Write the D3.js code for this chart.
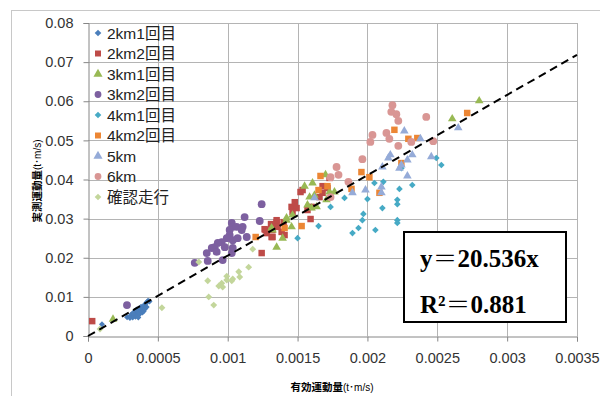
<!DOCTYPE html>
<html><head><meta charset="utf-8">
<script src="https://cdn.jsdelivr.net/npm/d3@7"></script>
<style>body{margin:0;background:#fff}svg{display:block}</style>
</head><body><svg id="c" width="600" height="396"></svg>
<script>
// ---------- data ----------
const seriesNames = ["2km1回目","2km2回目","3km1回目","3km2回目","4km1回目","4km2回目","5km","6km","確認走行"];
const s2km1 = [[0.0001,0.003],[0.00028,0.0048],[0.0003,0.005],[0.00031,0.0055],[0.00032,0.0047],[0.00033,0.006],[0.00033,0.0052],[0.00034,0.0065],[0.00034,0.0049],[0.00035,0.0058],[0.00035,0.0068],[0.00036,0.0053],[0.00036,0.0062],[0.00037,0.0071],[0.00037,0.0056],[0.00038,0.0065],[0.00038,0.0075],[0.00039,0.006],[0.00039,0.0069],[0.0004,0.0078],[0.0004,0.0064],[0.00041,0.0082],[0.00041,0.007],[0.00042,0.0086],[0.00042,0.0074],[0.00043,0.009],[0.00044,0.0088],[0.00032,0.0058],[0.0003,0.0046],[0.00036,0.0047]];
const s2km2 = [[0.00003,0.0038],[0.001521,0.0368],[0.001536,0.0373],[0.001679,0.0383],[0.001457,0.033],[0.001493,0.0327],[0.001464,0.0317],[0.00135,0.0291],[0.001336,0.0284],[0.001357,0.0279],[0.001321,0.0271],[0.001264,0.0273],[0.001279,0.0263],[0.001314,0.0253],[0.001386,0.0266],[0.001407,0.0258],[0.001593,0.0299],[0.001571,0.0322],[0.0016,0.033],[0.001657,0.0355],[0.001679,0.0366],[0.001714,0.0378],[0.001243,0.0212],[0.00135,0.0296],[0.001271,0.0271],[0.001321,0.0253],[0.001729,0.0404],[0.00148,0.0342],[0.0014,0.0291],[0.00131,0.0286]];
const s3km1 = [[0.000179,0.0043],[0.00155,0.0383],[0.001607,0.0391],[0.0017,0.0412],[0.001586,0.0355],[0.001621,0.036],[0.001729,0.0368],[0.001764,0.0368],[0.001571,0.0335],[0.0016,0.0327],[0.001636,0.033],[0.001464,0.0309],[0.001421,0.0296],[0.001457,0.0279],[0.001321,0.0271],[0.001393,0.025],[0.00135,0.0227],[0.001707,0.0348],[0.001314,0.0276],[0.001421,0.0302],[0.0028,0.0601],[0.002607,0.0555]];
const s3km2 = [[0.000279,0.0079],[0.001243,0.0337],[0.001229,0.0294],[0.001121,0.0304],[0.001107,0.0279],[0.001029,0.0289],[0.001036,0.0279],[0.001014,0.0271],[0.001064,0.0279],[0.0011,0.0271],[0.001014,0.0258],[0.000993,0.025],[0.001036,0.0245],[0.001071,0.025],[0.000957,0.024],[0.000929,0.0238],[0.000907,0.0227],[0.000886,0.0225],[0.000921,0.0215],[0.00085,0.0212],[0.001036,0.0225],[0.001029,0.0212],[0.000964,0.0194],[0.000857,0.0192],[0.000764,0.0187],[0.000979,0.0227],[0.001136,0.0253]];
const s4km1 = [[0.002529,0.0437],[0.002493,0.0455],[0.002321,0.0386],[0.002229,0.0376],[0.002114,0.0394],[0.00205,0.0391],[0.002,0.035],[0.001836,0.0353],[0.002214,0.0348],[0.002214,0.0337],[0.002107,0.0327],[0.001971,0.0312],[0.001964,0.0296],[0.002214,0.0296],[0.002214,0.0289],[0.001936,0.0276],[0.002057,0.0271],[0.001893,0.0263],[0.001736,0.033],[0.002243,0.0429],[0.00165,0.0281],[0.0015,0.025]];
const s4km2 = [[0.002193,0.0527],[0.002293,0.0504],[0.002357,0.0506],[0.001957,0.0419],[0.002014,0.0406],[0.002243,0.0442],[0.002714,0.057],[0.001886,0.0376],[0.002086,0.0366],[0.001664,0.0409],[0.001714,0.0383],[0.00165,0.0373],[0.001407,0.0276],[0.001529,0.0281],[0.0012,0.0253]];
const s5km = [[0.002264,0.0524],[0.002379,0.0504],[0.002164,0.0463],[0.00215,0.0455],[0.002321,0.0463],[0.002457,0.0458],[0.002107,0.0432],[0.002286,0.045],[0.002243,0.0437],[0.002229,0.0429],[0.002286,0.0409],[0.00265,0.0532],[0.001986,0.0373],[0.0021,0.0381],[0.001893,0.0366],[0.0021,0.0366],[0.001621,0.0353]];
const s6km = [[0.002179,0.059],[0.002171,0.0573],[0.002207,0.0567],[0.002221,0.055],[0.002421,0.056],[0.002036,0.0514],[0.002021,0.0496],[0.002136,0.0519],[0.002157,0.0504],[0.002221,0.0486],[0.002314,0.0496],[0.002471,0.0498],[0.001964,0.0452],[0.001779,0.0432],[0.001793,0.0412],[0.001736,0.0406],[0.001864,0.0394],[0.001736,0.0355]];
const sKakunin = [[0.000086,0.0018],[0.000529,0.0072],[0.000793,0.0189],[0.001179,0.0222],[0.00115,0.0176],[0.001079,0.0164],[0.001086,0.0151],[0.000993,0.0153],[0.000993,0.0143],[0.001029,0.0141],[0.000957,0.0135],[0.000936,0.0128],[0.000964,0.0125],[0.000857,0.0141],[0.000864,0.01],[0.0009,0.0079],[0.001036,0.0146]];
const xTicks = [0,0.0005,0.001,0.0015,0.002,0.0025,0.003,0.0035];
const xTickLabels = ["0","0.0005","0.001","0.0015","0.002","0.0025","0.003","0.0035"];
const yTicks = [0,0.01,0.02,0.03,0.04,0.05,0.06,0.07,0.08];
const yTickLabels = ["0","0.01","0.02","0.03","0.04","0.05","0.06","0.07","0.08"];
const trendSlope = 20.536;
const eqText = "y＝20.536x";
const r2Text = "R²＝0.881";
const xTitle = "有効運動量", yTitle = "実測運動量", unitText = "(t･m/s)";

// ---------- styling ----------
const seriesData = [s2km1,s2km2,s3km1,s3km2,s4km1,s4km2,s5km,s6km,sKakunin];
const colors = ["#4a7ebb","#be4b48","#98b954","#7d60a0","#46aac5","#ec8634","#95abd8","#d99694","#c3d69b"];
const shapes = ["diamond","square","triangle","circle","diamond","square","triangle","circle","diamond"];
const sizes  = [18,42,32,48,22,42,32,48,24];

const svg = d3.select("#c");
const W=600,H=396;
const m = {l:88, r:577, t:23, b:336};
const x = d3.scaleLinear().domain([0,0.0035]).range([m.l,m.r]);
const y = d3.scaleLinear().domain([0,0.08]).range([m.b,m.t]);
const font = "'Liberation Sans','Noto Sans CJK JP',sans-serif";

svg.append("rect").attr("width",W).attr("height",H).attr("fill","#fff");
svg.append("rect").attr("x",11.5).attr("y",10.5).attr("width",W+10).attr("height",H+10)
  .attr("fill","none").attr("stroke","#c8c8c8");

// gridlines
const grid = svg.append("g");
grid.selectAll(".gx").data(xTicks.slice(1)).join("line")
  .attr("x1",d=>Math.round(x(d))+0.5).attr("x2",d=>Math.round(x(d))+0.5)
  .attr("y1",m.t).attr("y2",m.b).attr("stroke","#b4b4b4");
grid.selectAll(".gy").data(yTicks.slice(1)).join("line")
  .attr("y1",d=>Math.round(y(d))+0.5).attr("y2",d=>Math.round(y(d))+0.5)
  .attr("x1",m.l).attr("x2",m.r).attr("stroke","#b4b4b4");

// axes
const ax = svg.append("g").attr("transform",`translate(0,${Math.round(m.b)+0.5})`)
  .call(d3.axisBottom(x).tickValues(xTicks).tickFormat((d,i)=>xTickLabels[i]).tickSize(5).tickPadding(11));
const ay = svg.append("g").attr("transform",`translate(${m.l+0.5},0)`)
  .call(d3.axisLeft(y).tickValues(yTicks).tickFormat((d,i)=>yTickLabels[i]).tickSize(5).tickPadding(10));
[ax,ay].forEach(g=>{
  g.select(".domain").attr("stroke","#868686");
  g.selectAll(".tick line").attr("stroke","#868686");
  g.selectAll("text").attr("font-family",font).attr("font-size",14.5).attr("fill","#333");
});

// markers
function symPath(shape,size){
  const t = shape==="diamond"||shape==="square"?d3.symbolSquare:shape==="triangle"?d3.symbolTriangle:d3.symbolCircle;
  return d3.symbol().type(t).size(size)();
}
const pts = svg.append("g");
seriesData.forEach((data,i)=>{
  pts.selectAll(null).data(data).join("path")
    .attr("d",symPath(shapes[i],sizes[i]))
    .attr("transform",d=>`translate(${x(d[0])},${y(d[1])})`+(shapes[i]==="diamond"?" rotate(45)":""))
    .attr("fill",colors[i]);
});

// trend line
svg.append("line")
  .attr("x1",x(0)).attr("y1",y(0))
  .attr("x2",x(0.0035)).attr("y2",y(0.0035*trendSlope))
  .attr("stroke","#000").attr("stroke-width",2).attr("stroke-dasharray","8,5");

// legend
const lg = svg.append("g");
seriesNames.forEach((name,i)=>{
  const cy = 33 + i*20.5;
  lg.append("path").attr("d",symPath(shapes[i],shapes[i]==="diamond"?22:36))
    .attr("transform",`translate(98,${cy})`+(shapes[i]==="diamond"?" rotate(45)":""))
    .attr("fill",colors[i]);
  lg.append("text").attr("x",107).attr("y",cy).attr("dy","0.36em")
    .attr("font-family",font).attr("font-size",15.5).attr("fill","#222").text(name);
});

// axis titles
const xt = svg.append("text").attr("x",332).attr("y",391).attr("text-anchor","middle")
  .attr("font-family",font).attr("fill","#000");
xt.append("tspan").attr("font-size",10.5).attr("font-weight","bold").text(xTitle);
xt.append("tspan").attr("font-size",10).text(unitText);
const yt = svg.append("text").attr("transform","translate(41,181) rotate(-90)").attr("text-anchor","middle")
  .attr("font-family",font).attr("fill","#000");
yt.append("tspan").attr("font-size",10.5).attr("font-weight","bold").text(yTitle);
yt.append("tspan").attr("font-size",10).text(unitText);

// equation box
svg.append("rect").attr("x",404).attr("y",232).attr("width",162).attr("height",90)
  .attr("fill","#fff").attr("stroke","#000").attr("stroke-width",2);
const serif = "'Liberation Serif','DejaVu Serif','Noto Serif CJK JP',serif";
svg.append("text").attr("x",420).attr("y",267).attr("font-family",serif).attr("font-weight","bold")
  .attr("font-size",25).attr("fill","#000").text(eqText);
svg.append("text").attr("x",420).attr("y",313).attr("font-family",serif).attr("font-weight","bold")
  .attr("font-size",25).attr("fill","#000").text(r2Text);
</script></body></html>
